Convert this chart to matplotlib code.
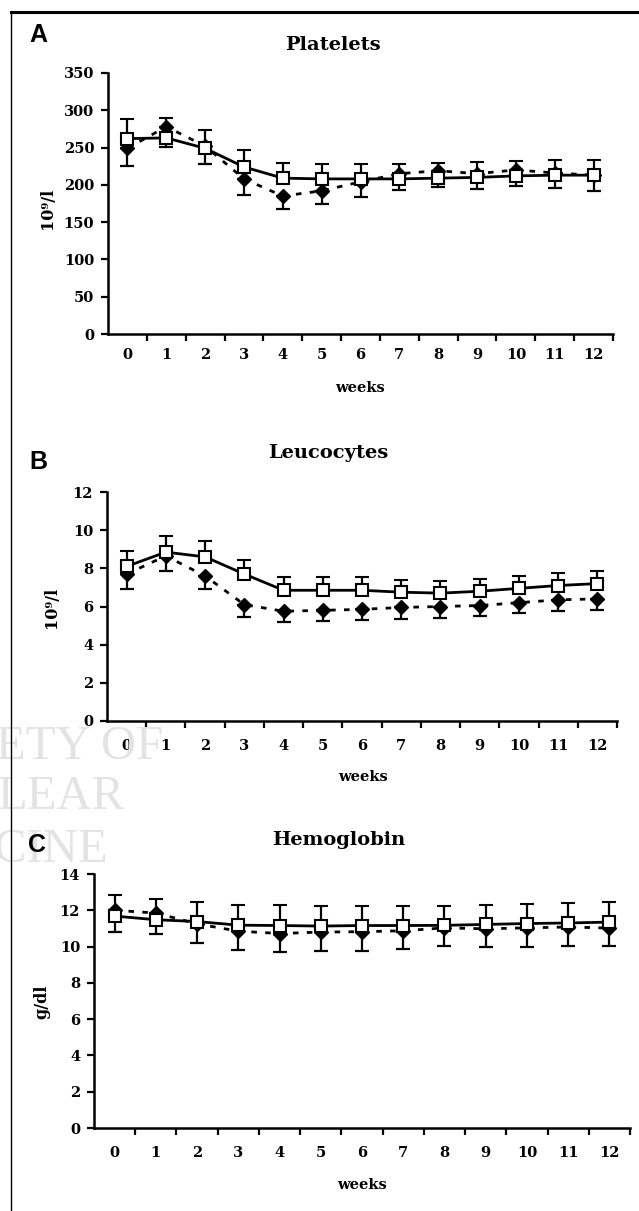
import matplotlib
matplotlib.use("Agg")
import matplotlib.pyplot as plt
from matplotlib.lines import Line2D
import numpy as np

# ---------------- data ----------------
weeks = list(range(13))
week_labels = [str(w) for w in weeks]

plt_sq = [262, 263, 249, 224, 209, 208, 208, 208, 209, 210, 212, 213, 213]
plt_sq_hi = [288, 290, 274, 247, 229, 228, 228, 228, 229, 230, 232, 233, 234]
plt_dm = [249, 278, 252, 208, 185, 192, 204, 215, 219, 215, 220, 216, 213]
plt_dm_lo = [225, 251, 228, 187, 167, 174, 184, 193, 197, 194, 199, 196, 192]

leu_sq = [8.1, 8.85, 8.6, 7.7, 6.85, 6.85, 6.85, 6.75, 6.7, 6.8, 6.95, 7.1, 7.2]
leu_sq_hi = [8.9, 9.7, 9.45, 8.45, 7.55, 7.55, 7.55, 7.4, 7.35, 7.45, 7.6, 7.75, 7.85]
leu_dm = [7.7, 8.65, 7.6, 6.1, 5.75, 5.8, 5.85, 5.95, 6.0, 6.05, 6.2, 6.35, 6.4]
leu_dm_lo = [6.9, 7.85, 6.9, 5.45, 5.2, 5.25, 5.3, 5.35, 5.4, 5.5, 5.65, 5.75, 5.8]

hb_sq = [11.68, 11.48, 11.38, 11.18, 11.16, 11.13, 11.16, 11.16, 11.17, 11.22, 11.27, 11.3, 11.35]
hb_sq_hi = [12.85, 12.6, 12.47, 12.27, 12.27, 12.22, 12.22, 12.25, 12.25, 12.3, 12.33, 12.38, 12.44]
hb_dm = [12.0, 11.85, 11.25, 10.85, 10.72, 10.8, 10.82, 10.87, 11.03, 10.98, 11.03, 11.08, 11.02]
hb_dm_lo = [10.78, 10.7, 10.18, 9.8, 9.68, 9.73, 9.77, 9.86, 10.02, 9.97, 10.0, 10.05, 10.02]

panel_letters = ["A", "B", "C"]
titles = ["Platelets", "Leucocytes", "Hemoglobin"]
ylabels = ["10\u2079/l", "10\u2079/l", "g/dl"]
yticks_list = [list(range(0, 351, 50)), list(range(0, 13, 2)), list(range(0, 15, 2))]
xlabel = "weeks"
watermark = ["ETY OF", "LEAR", "CINE"]

# ---------------- layout ----------------
W, H = 639, 1211
fig = plt.figure(figsize=(W / 100, H / 100), dpi=100)

def fx(px):
    return px / W

def fy(py):
    return 1 - py / H

SERIF = "DejaVu Serif"

# axes boxes in pixels: left, right, top, bottom
boxes = [(108, 613, 73, 334), (107, 617, 492, 721), (94, 630, 874, 1128)]
title_pos = [(333, 45), (328, 453), (339, 840)]
letter_pos = [(38, 35), (38, 462), (37, 845)]
ylabel_pos = [(48, 208), (52, 607), (42, 1002)]
xlabel_pos = [(360, 388), (363, 777), (362, 1185)]
xpad = [10, 13, 13]

series = [
    (plt_sq, plt_sq_hi, plt_dm, plt_dm_lo),
    (leu_sq, leu_sq_hi, leu_dm, leu_dm_lo),
    (hb_sq, hb_sq_hi, hb_dm, hb_dm_lo),
]

# watermark (light grey, behind)
wm_pos = [(-4, 747), (-2, 797), (-6, 850)]
for txt, (x, y) in zip(watermark, wm_pos):
    fig.text(fx(x), fy(y), txt, ha="left", va="center", fontsize=35,
             family="Liberation Serif", color="#e3e3e3", zorder=0)

for i in range(3):
    l, r, t, b = boxes[i]
    ax = fig.add_axes([fx(l), fy(b), fx(r) - fx(l), fy(t) - fy(b)])
    ax.patch.set_visible(False)
    sq, sq_hi, dm, dm_lo = [np.array(a, dtype=float) for a in series[i]]
    zeros = np.zeros_like(sq)

    # diamonds (dotted), lower error bars
    ax.errorbar(weeks, dm, yerr=[dm - dm_lo, zeros], fmt="D", color="black",
                markersize=7, markerfacecolor="black", ecolor="black",
                elinewidth=1.6, capsize=5, capthick=1.6, zorder=3)
    ax.plot(weeks, dm, linestyle=(0, (2, 3)), color="black", lw=2, zorder=2.5)

    # squares (solid), upper error bars
    ax.plot(weeks, sq, linestyle="-", color="black", lw=2, zorder=4)
    ax.errorbar(weeks, sq, yerr=[zeros, sq_hi - sq], fmt="s", color="black",
                markersize=8, markerfacecolor="white", markeredgewidth=1.5,
                ecolor="black", elinewidth=1.6, capsize=5, capthick=1.6,
                zorder=5)

    yt = yticks_list[i]
    ax.set_ylim(yt[0], yt[-1])
    ax.set_xlim(-0.5, 12.5)
    ax.set_yticks(yt)
    ax.set_yticklabels([str(v) for v in yt])
    ax.set_xticks(weeks)
    ax.set_xticklabels(week_labels)
    ax.set_xticks([w + 0.5 for w in weeks], minor=True)
    ax.tick_params(axis="x", which="major", length=0, pad=xpad[i])
    ax.tick_params(axis="x", which="minor", length=5, width=1.6, direction="out")
    ax.tick_params(axis="y", which="major", length=5, width=1.6, direction="out", pad=5)
    for lab in ax.get_xticklabels() + ax.get_yticklabels():
        lab.set_fontfamily(SERIF)
        lab.set_fontweight("bold")
        lab.set_fontsize(10.5)
    for s in ["top", "right"]:
        ax.spines[s].set_visible(False)
    for s in ["left", "bottom"]:
        ax.spines[s].set_linewidth(1.8)

    # texts
    tx, ty = title_pos[i]
    fig.text(fx(tx), fy(ty), titles[i], ha="center", va="center",
             family=SERIF, fontweight="bold", fontsize=14)
    lx, ly = letter_pos[i]
    fig.text(fx(lx), fy(ly), panel_letters[i], ha="center", va="center",
             family="Liberation Sans", fontweight="bold", fontsize=18)
    yx, yy = ylabel_pos[i]
    fig.text(fx(yx), fy(yy), ylabels[i], ha="center", va="center", rotation=90,
             family=SERIF, fontweight="bold", fontsize=11.5)
    xx, xy = xlabel_pos[i]
    fig.text(fx(xx), fy(xy), xlabel, ha="center", va="center",
             family=SERIF, fontweight="bold", fontsize=10.5)

# outer frame (top and left)
fig.add_artist(Line2D([fx(11), fx(639)], [fy(12), fy(12)], color="black", lw=2.2,
                      transform=fig.transFigure))
fig.add_artist(Line2D([fx(11), fx(11)], [fy(12), fy(1211)], color="black", lw=1.0,
                      transform=fig.transFigure))

fig.savefig("out.png", dpi=100)
